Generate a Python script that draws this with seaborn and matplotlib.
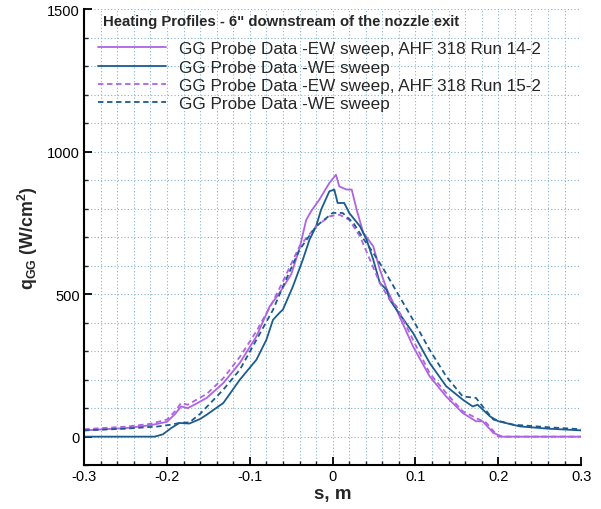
import pandas as pd
import matplotlib.pyplot as plt
import seaborn as sns
from matplotlib.ticker import MultipleLocator

# EW sweep, AHF 318 Run 14-2 (solid purple)
s_ew142 = [-0.30, -0.25, -0.22, -0.20, -0.19, -0.183, -0.175, -0.165, -0.152, -0.132,
           -0.112, -0.092, -0.076, -0.064, -0.05, -0.04, -0.032, -0.026, -0.016, -0.004,
           0.004, 0.008, 0.017, 0.023, 0.029, 0.037, 0.049, 0.057, 0.065, 0.077,
           0.097, 0.117, 0.137, 0.157, 0.173, 0.181, 0.194, 0.205, 0.25, 0.30]
q_ew142 = [22, 30, 40, 52, 80, 106, 100, 115, 136, 188,
           259, 352, 457, 505, 570, 660, 760, 791, 832, 890,
           919, 878, 867, 867, 796, 715, 668, 586, 520, 446,
           317, 212, 141, 83, 54, 54, 13, 0, 0, 0]

# WE sweep, Run 14-2 (solid blue)
s_we142 = [-0.30, -0.25, -0.215, -0.205, -0.195, -0.185, -0.173, -0.16, -0.152, -0.132,
           -0.112, -0.092, -0.08, -0.072, -0.064, -0.06, -0.048, -0.036, -0.028, -0.02,
           -0.014, -0.004, 0.002, 0.006, 0.014, 0.02, 0.033, 0.041, 0.049, 0.057,
           0.065, 0.069, 0.077, 0.097, 0.117, 0.137, 0.157, 0.169, 0.175, 0.19,
           0.2, 0.226, 0.26, 0.30]
q_we142 = [0, 0, 0, 8, 30, 48, 46, 62, 77, 118,
           200, 270, 340, 410, 435, 446, 527, 621, 691, 738,
           796, 861, 867, 820, 820, 785, 738, 691, 621, 539,
           516, 480, 446, 364, 259, 177, 130, 106, 112, 71,
           54, 36, 28, 22]

# EW sweep, AHF 318 Run 15-2 (dashed purple)
s_ew152 = [-0.30, -0.25, -0.22, -0.20, -0.19, -0.183, -0.175, -0.152, -0.132, -0.112,
           -0.092, -0.072, -0.06, -0.04, -0.02, -0.004, 0.008, 0.02, 0.033, 0.045,
           0.057, 0.069, 0.077, 0.097, 0.117, 0.137, 0.157, 0.177, 0.185, 0.20,
           0.25, 0.30]
q_ew152 = [26, 35, 45, 60, 90, 118, 112, 150, 205, 280,
           370, 475, 545, 668, 738, 773, 779, 761, 703, 621,
           539, 480, 458, 340, 223, 153, 89, 60, 50, 0,
           0, 0]

# WE sweep, Run 15-2 (dashed blue)
s_we152 = [-0.30, -0.25, -0.21, -0.195, -0.185, -0.173, -0.16, -0.132, -0.112, -0.092,
           -0.072, -0.06, -0.04, -0.02, 0.0, 0.012, 0.025, 0.037, 0.049, 0.061,
           0.073, 0.085, 0.097, 0.117, 0.137, 0.157, 0.173, 0.181, 0.194, 0.218,
           0.26, 0.30]
q_we152 = [22, 28, 36, 42, 48, 50, 80, 165, 235, 340,
           445, 527, 656, 738, 785, 785, 750, 695, 645, 590,
           530, 470, 410, 305, 212, 141, 136, 106, 60, 42,
           33, 26]

labels = ["GG Probe Data -EW sweep, AHF 318 Run 14-2",
          "GG Probe Data -WE sweep",
          "GG Probe Data -EW sweep, AHF 318 Run 15-2",
          "GG Probe Data -WE sweep"]

purple = "#AE63E4"
blue = "#1C5B8E"

sns.set_style("white")
plt.rcParams['font.family'] = ['Liberation Sans', 'DejaVu Sans']

fig = plt.figure(figsize=(6.01, 5.10), dpi=100)
ax = fig.add_axes([0.140, 0.086, 0.827, 0.894])

series = [
    (s_ew142, q_ew142, purple, None, labels[0]),
    (s_we142, q_we142, blue, None, labels[1]),
    (s_ew152, q_ew152, purple, (3, 2), labels[2]),
    (s_we152, q_we152, blue, (3, 2), labels[3]),
]
for s, q, c, dash, lab in series:
    df = pd.DataFrame({"s": s, "q": q})
    sns.lineplot(data=df, x="s", y="q", color=c, lw=1.3, ax=ax,
                 estimator=None, sort=False, label=lab)
    if dash is not None:
        ax.lines[-1].set_dashes(dash)

ax.set_xlim(-0.3, 0.3)
ax.set_ylim(-100, 1500)
ax.xaxis.set_minor_locator(MultipleLocator(0.02))
ax.yaxis.set_minor_locator(MultipleLocator(100))
ax.set_xticks([-0.3, -0.2, -0.1, 0, 0.1, 0.2, 0.3])
ax.set_xticklabels(["-0.3", "-0.2", "-0.1", "0", "0.1", "0.2", "0.3"])
ax.set_yticks([0, 500, 1000, 1500])
ax.set_yticklabels(["0", "500", "1000", "1500"])

ax.grid(True, which="both", linestyle=(0, (1, 2)), color="#86B4CC", lw=0.8)
ax.set_axisbelow(True)
for side in ["top", "right"]:
    ax.spines[side].set_visible(False)
for side in ["left", "bottom"]:
    ax.spines[side].set_color("black")
    ax.spines[side].set_linewidth(1.5)
ax.tick_params(which="major", direction="in", length=6, width=1.3, labelsize=10.5,
               colors="black", left=True, bottom=True, pad=3)
ax.tick_params(which="minor", direction="in", length=3, width=1, left=True, bottom=True)

ax.set_xlabel("s, m", fontsize=13.5, fontweight="bold", labelpad=1)
ax.set_ylabel(r"q$_{\mathregular{GG}}$ (W/cm$^{\mathregular{2}}$)", fontsize=12.8,
              fontweight="bold", labelpad=5)

ax.text(0.038, 0.975, "Heating Profiles - 6\" downstream of the nozzle exit",
        transform=ax.transAxes, fontsize=10.7, fontweight="bold", va="center", ha="left")
ax.legend(loc="upper left", bbox_to_anchor=(0.014, 0.945), frameon=False,
          fontsize=12.3, handlelength=4.0, handletextpad=0.75, labelspacing=0.2,
          borderaxespad=0)

fig.savefig("out.png", dpi=100)
